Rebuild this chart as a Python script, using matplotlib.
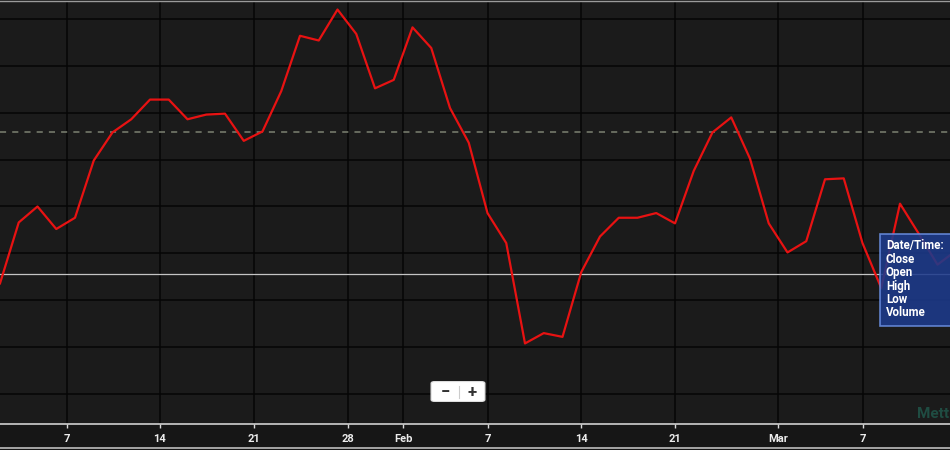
import matplotlib
matplotlib.use('Agg')
import matplotlib.pyplot as plt
from matplotlib.patches import Rectangle, FancyBboxPatch
from matplotlib.lines import Line2D

plt.rcParams['font.family'] = ['Roboto', 'DejaVu Sans']

# closing prices, one per trading day
close = [21.68, 22.33, 22.50, 22.26, 22.38, 22.99, 23.29, 23.43, 23.64, 23.64,
         23.43, 23.48, 23.49, 23.20, 23.30, 23.73, 24.32, 24.27, 24.60, 24.34,
         23.76, 23.85, 24.41, 24.19, 23.55, 23.18, 22.43, 22.11, 21.04, 21.15,
         21.11, 21.80, 22.18, 22.38, 22.38, 22.43, 22.32, 22.88, 23.29, 23.45,
         23.01, 22.32, 22.01, 22.13, 22.79, 22.80, 22.11, 21.63, 22.53, 22.21,
         21.88, 22.03]
tick_pos = [3.57, 8.53, 13.55, 18.56, 21.5, 26.0, 31.0, 36.0, 41.5, 46.0]
tick_labels = ['7', '14', '21', '28', 'Feb', '7', '14', '21', 'Mar', '7']
grid_levels = [20.5, 21.0, 21.5, 22.0, 22.5, 23.0, 23.5, 24.0, 24.5]
upper_level = 23.29   # dashed reference line
lower_level = 21.78   # solid reference line
tooltip_rows = ['Date/Time:', 'Close', 'Open', 'High', 'Low', 'Volume']

W, H = 950, 450
fig = plt.figure(figsize=(9.5, 4.5), dpi=100, facecolor='#161616')
ax = fig.add_axes([0, 26 / H, 1, 423 / H])
ax.set_facecolor('#1b1b1b')

x = list(range(len(close)))
ax.set_xlim(0, W / 18.75)
ax.set_ylim(20.181, 24.691)

for g in grid_levels:
    ax.axhline(g, color='#050505', lw=1.1, zorder=1)
for t in tick_pos:
    ax.axvline(t, color='#050505', lw=1.1, zorder=1)

ax.axhline(upper_level, color='#7c8272', lw=1.1, ls=(0, (4, 4)), zorder=2)
ax.axhline(lower_level, color='#c4c4c4', lw=0.9, zorder=2)
ax.plot(x, close, color='#e81212', lw=1.6, zorder=3)

ax.set_xticks(tick_pos)
ax.set_xticklabels(tick_labels)
ax.set_yticks([])
ax.tick_params(axis='x', colors='#d8d8d8', length=3, width=1, pad=4,
               labelsize=8, labelcolor='#ececec')
for lab in ax.get_xticklabels():
    lab.set_fontweight('bold')
for side in ['left', 'right']:
    ax.spines[side].set_visible(False)
ax.spines['bottom'].set_color('#d0d0d0')
ax.spines['bottom'].set_linewidth(1.2)
ax.spines['top'].set_color('#9a9a9a')
ax.spines['top'].set_linewidth(1.0)

# tooltip box
def fx(px):
    return px / W

def fy(py):
    return 1 - py / H

fig.patches.append(Rectangle((fx(880), fy(326)), fx(80), (326 - 234) / H,
                             transform=fig.transFigure, facecolor='#1d3a8c',
                             edgecolor='#6a8ee0', lw=1.2, alpha=0.88, zorder=5))
for i, row in enumerate(tooltip_rows):
    fig.text(fx(886), fy(246 + i * 13.4), row, color='white', fontsize=8.3,
             fontweight='bold', va='center', ha='left', zorder=6)

# zoom buttons
fig.patches.append(FancyBboxPatch((fx(432), fy(401)), fx(52), 19 / H,
                                  boxstyle='round,pad=0.001,rounding_size=0.004',
                                  transform=fig.transFigure, facecolor='white',
                                  edgecolor='#dddddd', lw=0.8, zorder=5))
fig.add_artist(Line2D([fx(459), fx(459)], [fy(386), fy(398)], color='#cccccc',
                      lw=0.8, zorder=6))
fig.text(fx(445), fy(392), '\u2212', color='#333333', fontsize=12,
         fontweight='bold', ha='center', va='center', zorder=6)
fig.text(fx(472), fy(392), '+', color='#333333', fontsize=12,
         fontweight='bold', ha='center', va='center', zorder=6)

# watermark
fig.text(fx(917), fy(414), 'Mett', color='#1f4c42', fontsize=11,
         fontweight='bold', ha='left', va='center', zorder=2)

# light strip at the very bottom
fig.add_artist(Line2D([0, 1], [fy(447.5), fy(447.5)], color='#bdbdbd', lw=1.2))

fig.savefig('out.png', dpi=100, facecolor=fig.get_facecolor())
